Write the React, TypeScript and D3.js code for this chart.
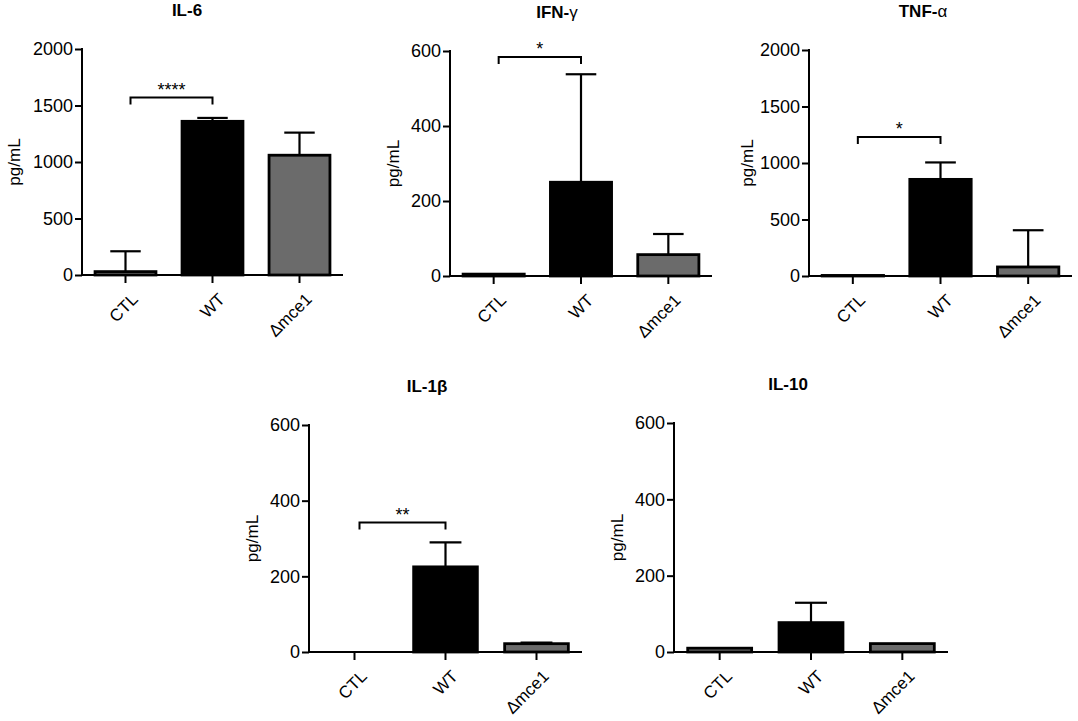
import React, { useEffect, useRef } from "react";
import * as d3 from "d3";

// data
const categories = ["CTL", "WT", "Δmce1"];
const titles = ["IL-6", "IFN-γ", "TNF-α", "IL-1β", "IL-10"];

const il6Mean = [30, 1360, 1060];
const il6Err = [180, 30, 200];
const ifnMean = [5, 250, 57];
const ifnErr = [0, 288, 55];
const tnfMean = [5, 855, 80];
const tnfErr = [0, 150, 325];
const il1bMean = [0, 225, 22];
const il1bErr = [0, 65, 3];
const il10Mean = [10, 77, 22];
const il10Err = [0, 52, 0];

const yMax = [2000, 600, 2000, 600, 600];
const yTicks2000 = [0, 500, 1000, 1500, 2000];
const yTicks600 = [0, 200, 400, 600];

// significance: bracket height and stars (null = none)
const sigHeight = [1570, 584, 1229, 342, null];
const sigStars = ["****", "*", "*", "**", ""];

const barFills = ["#777777", "#000000", "#6b6b6b"];

// layout of each panel: axis left x, top y, zero y, axis end x, title x, ylabel offset
const layout = [
  { x0: 82, top: 49, zero: 275, x1: 343, tx: 187, lab: 68 },
  { x0: 450, top: 51, zero: 276, x1: 712, tx: 557, lab: 57 },
  { x0: 809, top: 50, zero: 276, x1: 1072, tx: 923, lab: 62 },
  { x0: 309, top: 425, zero: 652, x1: 582, tx: 427, lab: 57 },
  { x0: 674, top: 423, zero: 652, x1: 948, tx: 788, lab: 57 },
];

const FONT = "Arial, 'Liberation Sans', sans-serif";

export default function App() {
  const svgRef = useRef<SVGSVGElement | null>(null);

  useEffect(() => {
    if (!svgRef.current) return;
    const svg = d3.select(svgRef.current);
    svg.selectAll("*").remove();

    const means = [il6Mean, ifnMean, tnfMean, il1bMean, il10Mean];
    const errs = [il6Err, ifnErr, tnfErr, il1bErr, il10Err];

    layout.forEach((L, i) => {
      const g = svg.append("g");
      const y = d3.scaleLinear().domain([0, yMax[i]]).range([L.zero, L.top]);
      const x = d3
        .scaleBand<string>()
        .domain(categories)
        .range([L.x0, L.x1])
        .paddingInner(0.3)
        .paddingOuter(0.15);
      const bw = x.bandwidth();
      const cx = (c: string) => (x(c) ?? 0) + bw / 2;

      // title
      const title = titles[i];
      const last = title.slice(-1);
      const t = g
        .append("text")
        .attr("x", L.tx)
        .attr("y", L.top - 33)
        .attr("text-anchor", "middle")
        .attr("font-family", FONT)
        .attr("font-size", 17)
        .attr("font-weight", "bold");
      if (last === "γ" || last === "α") {
        t.append("tspan").text(title.slice(0, -1));
        t.append("tspan").attr("font-weight", "normal").text(last);
      } else {
        t.text(title);
      }

      // bars
      const rows = categories.map((c, k) => ({ c, m: means[i][k], e: errs[i][k], k }));
      g.selectAll("rect.bar")
        .data(rows.filter((d) => d.m > 0))
        .join("rect")
        .attr("x", (d) => x(d.c) ?? 0)
        .attr("y", (d) => y(d.m))
        .attr("width", bw)
        .attr("height", (d) => L.zero - y(d.m))
        .attr("fill", (d) => barFills[d.k])
        .attr("stroke", "#000")
        .attr("stroke-width", 2.8);

      // error bars (upper only)
      const eb = rows.filter((d) => d.e > 0);
      g.selectAll("line.err")
        .data(eb)
        .join("line")
        .attr("x1", (d) => cx(d.c))
        .attr("x2", (d) => cx(d.c))
        .attr("y1", (d) => y(d.m))
        .attr("y2", (d) => y(d.m + d.e))
        .attr("stroke", "#000")
        .attr("stroke-width", 2.2);
      g.selectAll("line.cap")
        .data(eb)
        .join("line")
        .attr("x1", (d) => cx(d.c) - bw / 4)
        .attr("x2", (d) => cx(d.c) + bw / 4)
        .attr("y1", (d) => y(d.m + d.e))
        .attr("y2", (d) => y(d.m + d.e))
        .attr("stroke", "#000")
        .attr("stroke-width", 2.2);

      // y axis
      const yAxis = d3
        .axisLeft(y)
        .tickValues(yMax[i] === 2000 ? yTicks2000 : yTicks600)
        .tickSize(7)
        .tickPadding(2)
        .tickFormat(d3.format("d"));
      const ya = g.append("g").attr("transform", `translate(${L.x0},0)`).call(yAxis);
      ya.select(".domain").remove();
      ya.selectAll("line").attr("stroke", "#000").attr("stroke-width", 2);
      ya.selectAll("text").attr("font-family", FONT).attr("font-size", 18).attr("fill", "#000");
      g.append("line")
        .attr("x1", L.x0)
        .attr("x2", L.x0)
        .attr("y1", L.top - 1)
        .attr("y2", L.zero + 1)
        .attr("stroke", "#000")
        .attr("stroke-width", 2);

      // x axis
      g.append("line")
        .attr("x1", L.x0)
        .attr("x2", L.x1)
        .attr("y1", L.zero)
        .attr("y2", L.zero)
        .attr("stroke", "#000")
        .attr("stroke-width", 2);
      g.selectAll("line.xt")
        .data(categories)
        .join("line")
        .attr("x1", (c) => cx(c))
        .attr("x2", (c) => cx(c))
        .attr("y1", L.zero)
        .attr("y2", L.zero + 8)
        .attr("stroke", "#000")
        .attr("stroke-width", 2);
      g.selectAll("text.xl")
        .data(categories)
        .join("text")
        .attr("transform", (c) => `translate(${cx(c) + 5},${L.zero + 17}) rotate(-45)`)
        .attr("text-anchor", "end")
        .attr("dy", "0.7em")
        .attr("font-family", FONT)
        .attr("font-size", 17)
        .text((c) => c);

      // y label
      g.append("text")
        .attr("transform", `translate(${L.x0 - L.lab},${(L.top + L.zero) / 2}) rotate(-90)`)
        .attr("text-anchor", "middle")
        .attr("dy", "0.35em")
        .attr("font-family", FONT)
        .attr("font-size", 17)
        .text("pg/mL");

      // significance bracket
      const sh = sigHeight[i];
      if (sh !== null) {
        const xa = cx(categories[0]) + 5;
        const xb = cx(categories[1]);
        const yb = y(sh);
        g.append("path")
          .attr("d", `M${xa},${yb + 7}V${yb}H${xb}V${yb + 7}`)
          .attr("fill", "none")
          .attr("stroke", "#000")
          .attr("stroke-width", 2);
        g.append("text")
          .attr("x", (xa + xb) / 2)
          .attr("y", yb - 2)
          .attr("text-anchor", "middle")
          .attr("font-family", FONT)
          .attr("font-size", 18)
          .text(sigStars[i]);
      }
    });
  }, []);

  return (
    <svg
      ref={svgRef}
      width={1078}
      height={721}
      style={{ position: "absolute", left: 0, top: 0, background: "#fff" }}
    />
  );
}
